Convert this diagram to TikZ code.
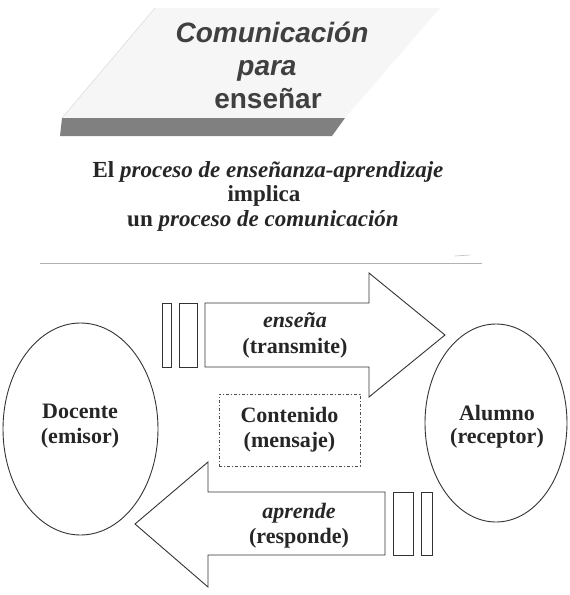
\documentclass[tikz,border=0pt]{standalone}
\usepackage{fontspec}
\setmainfont{Liberation Serif}
\newfontfamily\titlefont{Liberation Sans}
\usetikzlibrary{shapes.geometric}
\definecolor{ink}{gray}{0.15}
\definecolor{titleink}{gray}{0.25}
\tikzset{
  bodytext/.style={font=\fontsize{22}{26}\selectfont\bfseries, text=ink, anchor=base, inner sep=0pt},
  subtext/.style={bodytext, font=\fontsize{23}{26}\selectfont\bfseries},
  titletext/.style={font=\titlefont\fontsize{28}{34}\selectfont\bfseries, text=titleink, anchor=base, inner sep=0pt},
  outline/.style={draw=black!80, line width=0.9pt},
  ovalnode/.style={ellipse, outline, inner sep=0pt},
  barbox/.style={outline, fill=white},
}
\begin{document}
\begin{tikzpicture}[x=1pt,y=-1pt]
\useasboundingbox (0,0) rectangle (570,595);
% header parallelogram
\fill[gray!7] (155,8) -- (440,8) -- (345,118) -- (62,118) -- cycle;
\draw[gray!30, line width=0.5pt] (155,8) -- (62,118);
\fill[black!50] (62,118) -- (345,118) -- (332,136) -- (60,136) -- cycle;
\node[titletext] (t1) at (272,42) {\itshape Comunicación};
\node[titletext] (t2) at (267,75) {\itshape para};
\node[titletext] (t3) at (268,108) {enseñar};
% subtitle
\node[subtext] (s1) at (268,177) {El \textit{proceso de enseñanza-aprendizaje}};
\node[subtext] (s2) at (264,201) {implica};
\node[subtext] (s3) at (263,226) {un \textit{proceso de comunicación}};
% separator
\draw[gray!60, line width=0.6pt] (40,263) -- (482,263);
\draw[gray!50, line width=0.6pt] (455,256) -- (470,255);
% ellipses
\node[ovalnode, minimum width=155pt, minimum height=212pt] (doc) at (80.5,429) {};
\node[bodytext] (doc1) at (80,418) {Docente};
\node[bodytext] (doc2) at (80,443) {(emisor)};
\node[ovalnode, minimum width=142pt, minimum height=198pt] (alu) at (496,423) {};
\node[bodytext] (alu1) at (497,420) {Alumno};
\node[bodytext] (alu2) at (497,443) {(receptor)};
% top arrow
\draw[outline, fill=white] (205,303) -- (369,303) -- (369,273) -- (445,335) -- (369,397) -- (369,367) -- (205,367) -- cycle;
\draw[barbox] (162,303) rectangle (171,367);
\draw[barbox] (179,303) rectangle (197,367);
\node[bodytext] (ens1) at (295,327) {\textit{enseña}};
\node[bodytext] (ens2) at (295,353) {(transmite)};
% content box
\node[draw=black!70, dash pattern=on 3pt off 2pt on 1pt off 2pt, line width=0.8pt, minimum width=141pt, minimum height=72pt, inner sep=0pt] (cont) at (289.5,430) {};
\node[bodytext] (cont1) at (289.5,422) {Contenido};
\node[bodytext] (cont2) at (289.5,447) {(mensaje)};
% bottom arrow
\draw[outline, fill=white] (385,492) -- (208,492) -- (208,462) -- (135,524) -- (208,587) -- (208,555) -- (385,555) -- cycle;
\draw[barbox] (393,492) rectangle (413,555);
\draw[barbox] (421,492) rectangle (432,555);
\node[bodytext] (apr1) at (299,518) {\textit{aprende}};
\node[bodytext] (apr2) at (299,543) {(responde)};
\end{tikzpicture}
\end{document}
